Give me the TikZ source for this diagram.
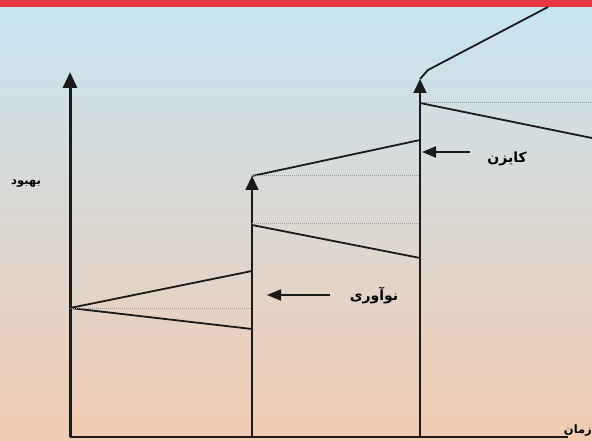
\documentclass[tikz,border=0pt]{standalone}
\usepackage{fontspec}
\usetikzlibrary{arrows.meta,positioning}
\TeXXeTstate=1
\newfontfamily\farsi[Script=Arabic]{DejaVu Sans}
\definecolor{skyblue}{HTML}{C6E5F3}
\definecolor{cream}{HTML}{F5EED3}
\definecolor{peach}{HTML}{F2CBB2}
\definecolor{redbar}{HTML}{E6383F}
\definecolor{ink}{HTML}{1A1A1A}

\begin{document}
\begin{tikzpicture}[x=1pt,y=-1pt,
  axis/.style={draw=ink,line width=3pt,-{Triangle[width=14pt,length=16pt]}},
  riser/.style={draw=ink,line width=2pt,-{Triangle[width=13pt,length=14pt]}},
  trend/.style={draw=ink,line width=1.8pt},
  level/.style={draw=gray!80,line width=1pt,densely dotted},
  pointer/.style={draw=ink,line width=2pt,-{Triangle[width=11pt,length=14pt]}},
  label/.style={inner sep=1pt,font=\farsi\bfseries\fontsize{14}{16}\selectfont},
  axislabel/.style={inner sep=1pt,font=\farsi\bfseries\fontsize{11.5}{13}\selectfont}]
  \useasboundingbox (0,0) rectangle (592,441);
  \shade[top color=skyblue,middle color=cream,bottom color=peach] (0,0) rectangle (592,441);
  \fill[redbar] (0,0) rectangle (592,7);
  % axes
  \coordinate (origin) at (70,437);
  \coordinate (ytop) at (70,72);
  \coordinate (xend) at (568,437);
  \draw[axis] (origin) -- (ytop);
  \draw[draw=ink,line width=2.5pt] (origin) -- (xend);
  \node[axislabel,anchor=east] (time) at (593,431) {\beginR زمان\endR};
  \node[axislabel] (improve) at (26,184) {\beginR بهبود\endR};
  % first step
  \coordinate (s1) at (70,308);
  \coordinate (s1hi) at (252,271);
  \coordinate (s1lvl) at (252,308);
  \coordinate (s1lo) at (252,329);
  \draw[trend] (s1) -- (s1hi);
  \draw[trend] (s1) -- (s1lo);
  \draw[level] (s1) -- (s1lvl);
  % second step
  \coordinate (b2) at (252,437);
  \coordinate (t2) at (252,176);
  \draw[riser] (b2) -- (t2);
  \coordinate (s2hi) at (420,140);
  \coordinate (s2top) at (420,176);
  \coordinate (s2a) at (252,223);
  \coordinate (s2b) at (420,223);
  \coordinate (s2c) at (252,225);
  \coordinate (s2lo) at (420,258);
  \draw[trend] (t2) -- (s2hi);
  \draw[level] (t2) -- (s2top);
  \draw[level] (s2a) -- (s2b);
  \draw[trend] (s2c) -- (s2lo);
  % third step
  \coordinate (b3) at (420,437);
  \coordinate (t3) at (420,79);
  \draw[riser] (b3) -- (t3);
  \coordinate (k3) at (428,70);
  \coordinate (s3hi) at (548,7);
  \coordinate (s3a) at (420,103);
  \coordinate (s3lvl) at (592,103);
  \coordinate (s3lo) at (592,138);
  \draw[trend] (t3) -- (k3) -- (s3hi);
  \draw[level] (s3a) -- (s3lvl);
  \draw[trend] (s3a) -- (s3lo);
  % labels
  \node[label] (kaizen) at (507,159) {\beginR کایزن\endR};
  \coordinate (kaizentail) at (470,152);
  \coordinate (kaizentip) at (422,152);
  \draw[pointer] (kaizentail) -- (kaizentip);
  \node[label] (innov) at (374,296) {\beginR نوآوری\endR};
  \coordinate (innovtail) at (330,295);
  \coordinate (innovtip) at (267,295);
  \draw[pointer] (innovtail) -- (innovtip);
\end{tikzpicture}
\end{document}
